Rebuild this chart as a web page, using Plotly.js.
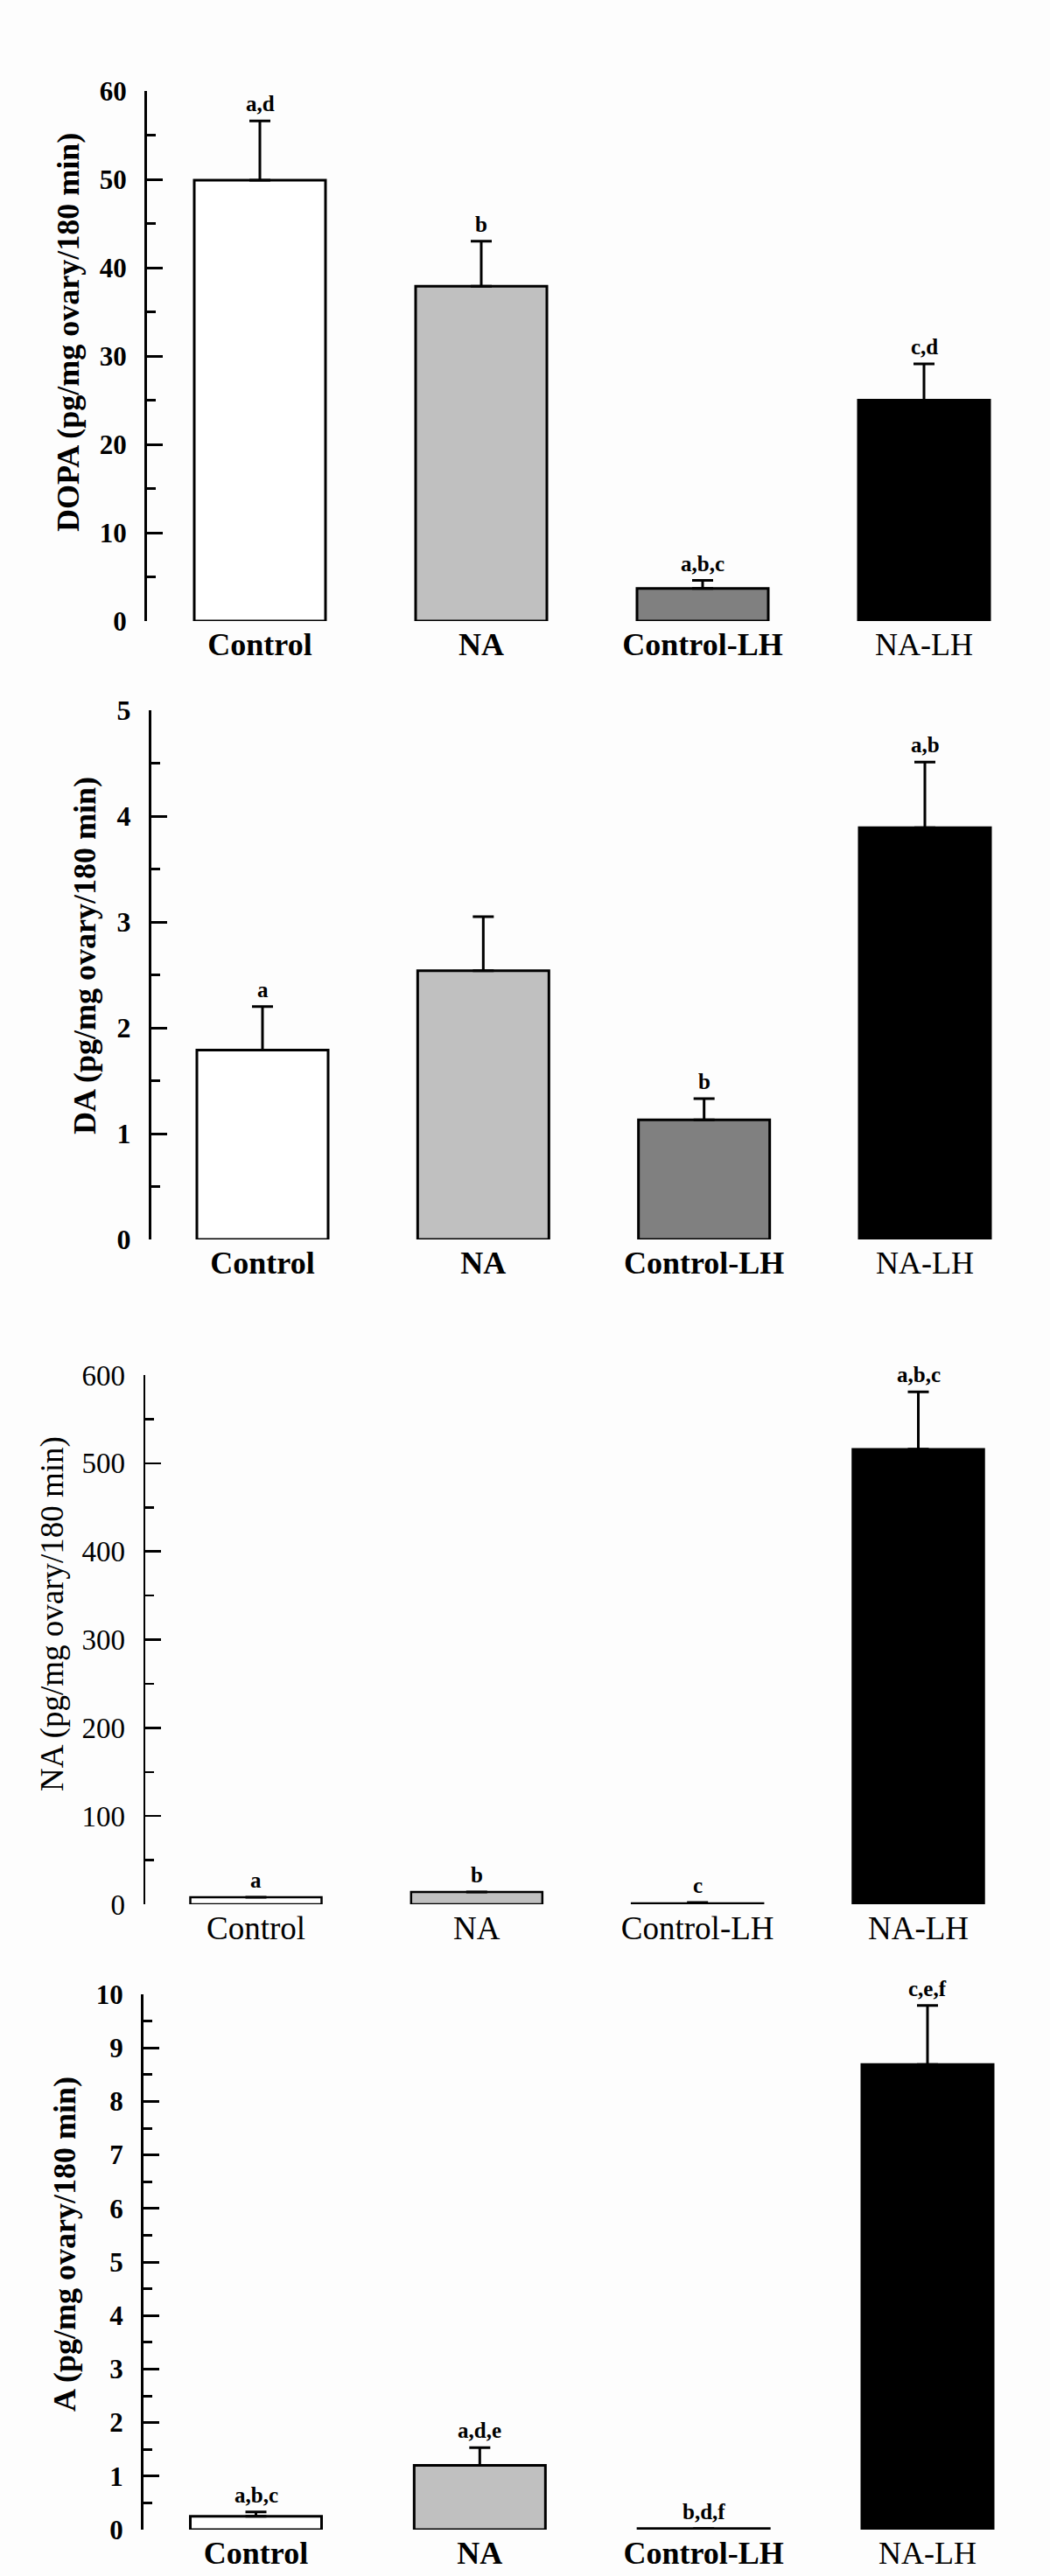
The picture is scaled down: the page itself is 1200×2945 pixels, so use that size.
<!DOCTYPE html>
<html><head><meta charset="utf-8">
<script src="https://cdn.plot.ly/plotly-3.0.1.min.js"></script>
<style>html,body{margin:0;padding:0;background:#fdfdfd}#chart{width:1200px;height:2945px}</style>
</head><body><div id="chart"></div>
<script>
// ---- data ----
const categories = ['Control', 'NA', 'Control-LH', 'NA-LH'];
const barColors = ['#ffffff', '#c0c0c0', '#808080', '#000000'];

const dopaMean = [49.9, 37.9, 3.7, 25.0];
const dopaSem = [6.7, 5.1, 0.9, 4.1];
const dopaLetters = ['a,d', 'b', 'a,b,c', 'c,d'];

const daMean = [1.79, 2.54, 1.13, 3.89];
const daSem = [0.41, 0.51, 0.20, 0.62];
const daLetters = ['a', '', 'b', 'a,b'];

const naMean = [8, 14, 1, 516];
const naSem = [0, 0, 1, 65];
const naLetters = ['a', 'b', 'c', 'a,b,c'];

const aMean = [0.25, 1.20, 0.02, 8.69];
const aSem = [0.08, 0.33, 0, 1.10];
const aLetters = ['a,b,c', 'a,d,e', 'b,d,f', 'c,e,f'];

const yTitles = ['DOPA (pg/mg ovary/180 min)', 'DA (pg/mg ovary/180 min)',
                 'NA (pg/mg ovary/180 min)', 'A (pg/mg ovary/180 min)'];
const yRanges = [[0, 60], [0, 5], [0, 600], [0, 10]];
const yMajor = [10, 1, 100, 1];
const yMinor = [5, 0.5, 50, 0.5];

const means = [dopaMean, daMean, naMean, aMean];
const sems = [dopaSem, daSem, naSem, aSem];
const letters = [dopaLetters, daLetters, naLetters, aLetters];

// ---- layout geometry (pixels) ----
const W = 1200, H = 2945, RIGHT = 1190, BARPX = 150;
const FONT = 'Liberation Serif, Times New Roman, serif';
const panels = [
  {axisX: 168, top: 104, bottom: 710, c0: 297, c3: 1056, bold: true, tick: 31, cat: 36, title: 36, tx: 78, ty: 380, lw: 3},
  {axisX: 173, top: 812, bottom: 1417, c0: 300, c3: 1057, bold: true, tick: 32, cat: 36, title: 36, tx: 97, ty: 1092, lw: 3},
  {axisX: 166, top: 1572, bottom: 2177, c0: 292.5, c3: 1049.5, bold: false, tick: 33, cat: 37, title: 37, tx: 60, ty: 1845, lw: 2.5},
  {axisX: 164, top: 2280, bottom: 2892, c0: 292.5, c3: 1060, bold: true, tick: 31, cat: 36, title: 36, tx: 74, ty: 2566, lw: 3}
];

const traces = [];
const layout = {
  width: W, height: H,
  margin: {l: 0, r: 0, t: 0, b: 0},
  paper_bgcolor: '#fdfdfd', plot_bgcolor: 'rgba(0,0,0,0)',
  showlegend: false,
  font: {family: FONT, color: '#000'},
  annotations: []
};

panels.forEach((p, i) => {
  const sfx = i === 0 ? '' : String(i + 1);
  const S = (p.c3 - p.c0) / 3;
  const wt = p.bold ? 700 : 400;

  traces.push({
    type: 'bar',
    x: categories,
    y: means[i],
    xaxis: 'x' + sfx, yaxis: 'y' + sfx,
    width: categories.map(() => BARPX / S),
    marker: {color: barColors, line: {color: '#000', width: p.lw}},
    error_y: {type: 'data', symmetric: false, array: sems[i],
              arrayminus: sems[i].map(() => 0),
              color: '#000', thickness: 3, width: 12},
    hoverinfo: 'none'
  });

  const tickText = categories.map(c => (p.bold && c !== 'NA-LH') ? '<b>' + c + '</b>' : c);
  layout['xaxis' + sfx] = {
    type: 'category',
    domain: [p.axisX / W, RIGHT / W], anchor: 'y' + sfx,
    range: [(p.axisX - p.c0) / S, (RIGHT - p.c0) / S],
    tickvals: categories, ticktext: tickText,
    ticks: '', showline: false, showgrid: false, zeroline: false,
    tickfont: {family: FONT, size: p.cat, color: '#000', weight: 400},
    ticklabelstandoff: 2, fixedrange: true
  };
  layout['yaxis' + sfx] = {
    domain: [1 - p.bottom / H, 1 - p.top / H], anchor: 'x' + sfx,
    range: yRanges[i], tick0: 0, dtick: yMajor[i],
    ticks: 'inside', ticklen: 18, tickwidth: p.lw, tickcolor: '#000',
    showline: true, linewidth: p.lw, linecolor: '#000',
    showgrid: false, zeroline: false,
    tickfont: {family: FONT, size: p.tick, color: '#000', weight: wt},
    ticklabelstandoff: 14,
    minor: {dtick: yMinor[i], ticks: 'inside', ticklen: 10, tickwidth: p.lw, tickcolor: '#000', showgrid: false},
    fixedrange: true
  };

  layout.annotations.push({
    xref: 'paper', yref: 'paper', x: p.tx / W, y: 1 - p.ty / H,
    xanchor: 'center', yanchor: 'middle', textangle: -90, showarrow: false,
    text: yTitles[i], font: {family: FONT, size: p.title, color: '#000', weight: wt}
  });

  categories.forEach((c, j) => {
    if (!letters[i][j]) return;
    layout.annotations.push({
      xref: 'x' + sfx, yref: 'y' + sfx, x: c, y: means[i][j] + sems[i][j],
      xanchor: 'center', yanchor: 'bottom', yshift: 4, showarrow: false,
      text: letters[i][j], font: {family: FONT, size: 25, color: '#000', weight: 700}
    });
  });
});

Plotly.newPlot('chart', traces, layout, {displayModeBar: false, staticPlot: true});
</script>
</body></html>
